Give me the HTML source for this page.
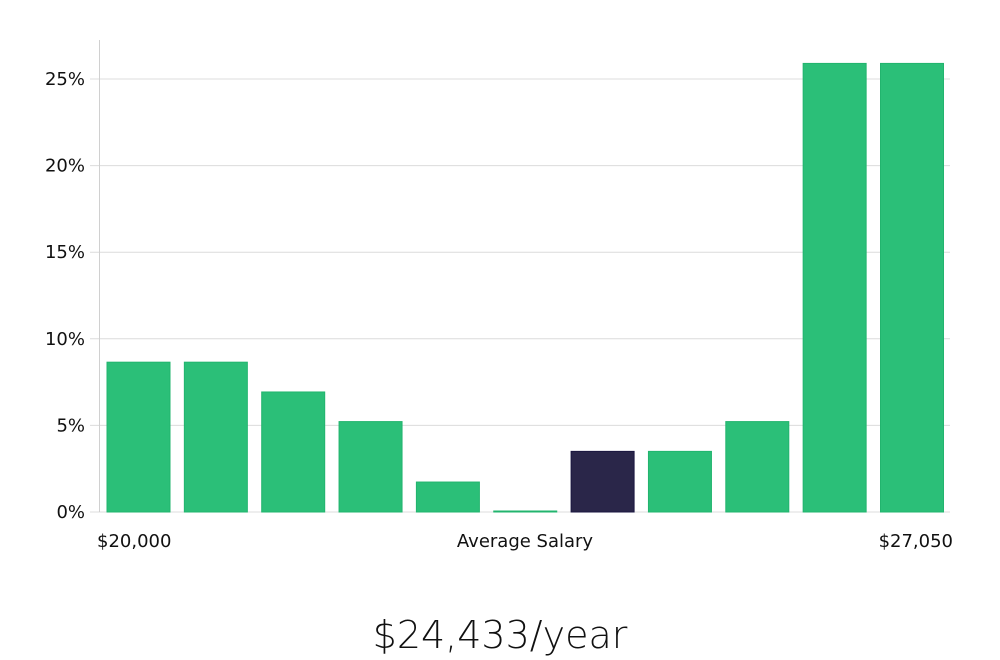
<!DOCTYPE html>
<html><head><meta charset="utf-8"><style>
html,body{margin:0;padding:0;background:#fff;width:1000px;height:660px;overflow:hidden}
svg{display:block}
text{font-family:"DejaVu Sans","Liberation Sans",sans-serif;fill:#111}
</style></head><body>
<svg id="chart" width="1000" height="660"></svg>
<script>
const categories = ["b1","b2","b3","b4","b5","b6","b7","b8","b9","b10","b11"];
const values = [8.65, 8.65, 6.93, 5.22, 1.73, 0.05, 3.5, 3.5, 5.22, 25.9, 25.9];
const highlightIndex = 6;
const yTicks = [0,5,10,15,20,25];
const yTickLabels = ["0%","5%","10%","15%","20%","25%"];
const xLabels = ["$20,000","Average Salary","$27,050"];
const summaryText = "$24,433/year";

const svg = document.getElementById('chart');
const NS = 'http://www.w3.org/2000/svg';
const y0 = 512, pxPerUnit = (512-79)/25;
const yScale = v => y0 - v*pxPerUnit;
const xStart = 107, step = 77.35, barW = 63;
const xScale = i => xStart + i*step;
function mk(tag, attrs){const e=document.createElementNS(NS,tag);for(const k in attrs)e.setAttribute(k,attrs[k]);svg.appendChild(e);return e;}

yTicks.forEach((t,i)=>{
  const y=yScale(t);
  const g=mk('line',{x1:90,x2:950,y1:y,y2:y,stroke:'#dcdcdc','stroke-width':1});
  
  
  const lb=mk('text',{x:85,y:y+6,'text-anchor':'end','font-size':18});
  lb.textContent=yTickLabels[i];
  
  
});
const ax=mk('line',{x1:99.5,x2:99.5,y1:40,y2:512,stroke:'#d0d0d0','stroke-width':1});



values.forEach((v,i)=>{
  const h=Math.max(v*pxPerUnit,1);
  const dark=i===highlightIndex;
  const r=mk('rect',{x:xScale(i),y:y0-h,width:barW,height:h,fill:dark?'#2a2649':'#2bbf78',stroke:dark?'#1a1640':'#22b46e','stroke-width':1});
  
  
});

const xl=[[97,'start'],[525,'middle'],[953,'end']];
xLabels.forEach((t,i)=>{
  const e=mk('text',{x:xl[i][0],y:547,'text-anchor':xl[i][1],'font-size':18});
  e.textContent=t;
  
  
});
const s=mk('text',{x:500,y:648,'text-anchor':'middle','font-size':38,'font-weight':300});
s.textContent=summaryText;
s.setAttribute('style','font-family:"DejaVu Sans","Liberation Sans",sans-serif;font-stretch:condensed');


</script>
</body></html>
